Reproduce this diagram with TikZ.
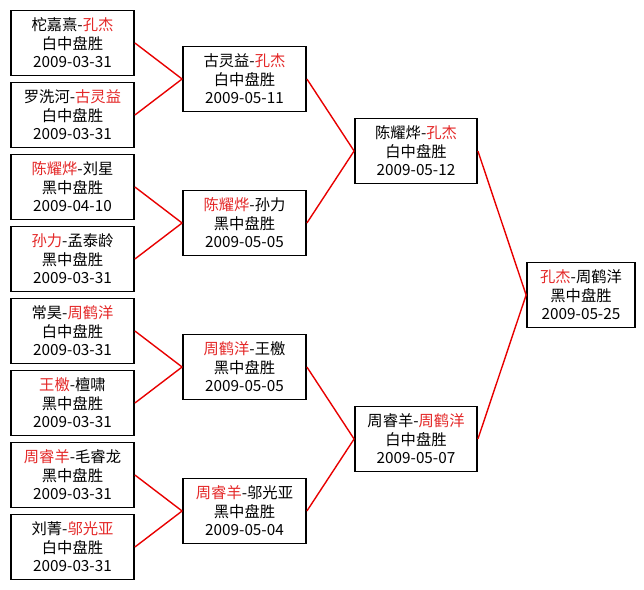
\documentclass[tikz,border=0pt]{standalone}
\usepackage{fontspec}
\newfontfamily\cjk{Noto Sans CJK SC}
\definecolor{nm}{RGB}{228,40,40}
\definecolor{ln}{RGB}{232,0,0}
\newcommand\win[1]{\textcolor{nm}{#1}}
\begin{document}
\begin{tikzpicture}[x=1pt,y=-1pt,
  game/.style={draw=black, line width=1.8pt, minimum width=123pt, minimum height=65pt,
    inner sep=0pt, align=center, fill=white, font=\cjk\fontsize{15.3}{18.5}\selectfont},
  final/.style={game, minimum width=108pt},
  conn/.style={draw=ln, line width=1.4pt}]
\useasboundingbox (0,0) rectangle (644,589);
\fill[white] (0,0) rectangle (644,589);
% leaf games
\node[game] (l1) at (72.5,43) {柁嘉熹-\win{孔杰}\\白中盘胜\\2009-03-31};
\node[game] (l2) at (72.5,115) {罗洗河-\win{古灵益}\\白中盘胜\\2009-03-31};
\node[game] (l3) at (72.5,187) {\win{陈耀烨}-刘星\\黑中盘胜\\2009-04-10};
\node[game] (l4) at (72.5,259) {\win{孙力}-孟泰龄\\黑中盘胜\\2009-03-31};
\node[game] (l5) at (72.5,331) {常昊-\win{周鹤洋}\\白中盘胜\\2009-03-31};
\node[game] (l6) at (72.5,403) {\win{王檄}-檀啸\\黑中盘胜\\2009-03-31};
\node[game] (l7) at (72.5,475) {\win{周睿羊}-毛睿龙\\黑中盘胜\\2009-03-31};
\node[game] (l8) at (72.5,547) {刘菁-\win{邬光亚}\\白中盘胜\\2009-03-31};
% quarter finals
\node[game] (m1) at (244.5,79) {古灵益-\win{孔杰}\\白中盘胜\\2009-05-11};
\node[game] (m2) at (244.5,223) {\win{陈耀烨}-孙力\\黑中盘胜\\2009-05-05};
\node[game] (m3) at (244.5,367) {\win{周鹤洋}-王檄\\黑中盘胜\\2009-05-05};
\node[game] (m4) at (244.5,511) {\win{周睿羊}-邬光亚\\黑中盘胜\\2009-05-04};
% semi finals
\node[game, minimum width=122pt] (s1) at (416,151) {陈耀烨-\win{孔杰}\\白中盘胜\\2009-05-12};
\node[game, minimum width=122pt] (s2) at (416,439) {周睿羊-\win{周鹤洋}\\白中盘胜\\2009-05-07};
% final
\node[final] (f) at (581,295) {\win{孔杰}-周鹤洋\\黑中盘胜\\2009-05-25};
% connectors
\draw[conn] (l1.east) -- (m1.west);
\draw[conn] (l2.east) -- (m1.west);
\draw[conn] (l3.east) -- (m2.west);
\draw[conn] (l4.east) -- (m2.west);
\draw[conn] (l5.east) -- (m3.west);
\draw[conn] (l6.east) -- (m3.west);
\draw[conn] (l7.east) -- (m4.west);
\draw[conn] (l8.east) -- (m4.west);
\draw[conn] (m1.east) -- (s1.west);
\draw[conn] (m2.east) -- (s1.west);
\draw[conn] (m3.east) -- (s2.west);
\draw[conn] (m4.east) -- (s2.west);
\draw[conn] (s1.east) -- (f.west);
\draw[conn] (s2.east) -- (f.west);
\end{tikzpicture}
\end{document}
